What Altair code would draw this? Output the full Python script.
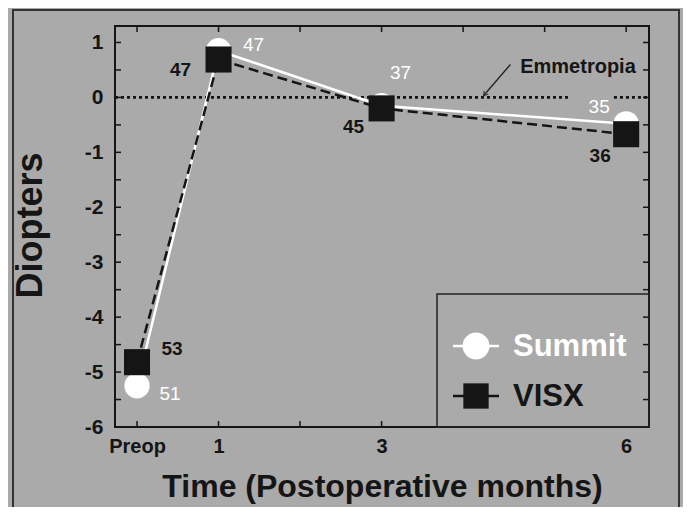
import altair as alt
import pandas as pd

# ---- data ----
months = [0, 1, 3, 6]
month_labels = ["Preop", "1", "3", "6"]
series = ["Summit", "VISX"]
summit = [-5.25, 0.85, -0.15, -0.48]
visx = [-4.82, 0.69, -0.20, -0.67]
summit_n = [51, 47, 37, 35]
visx_n = [53, 47, 45, 36]
y_ticks = [-6, -5, -4, -3, -2, -1, 0, 1]
y_minor = [v / 2 for v in range(-12, 3)]
x_ticks = [0, 1, 2, 3, 4, 5, 6]
emmetropia_value = 0
emmetropia_segments_start = [-0.27, 5.85]
emmetropia_segments_end = [5.32, 6.28]
annotation_text = "Emmetropia"
annotation_pos = [4.70, 0.56]
arrow_from = [4.58, 0.60]
arrow_to = [4.25, 0.03]
y_title = "Diopters"
x_title = "Time (Postoperative months)"

# ---- layout / style ----
W, H = 534, 401
XDOM = [-0.27, 6.28]
YDOM = [-6, 1.3]
FONT = "Liberation Sans"
BG = "#aaaaaa"
DARK = "#151515"
label_offsets = [(33, 8), (35, -6), (19, -33), (-27, -17),
                 (35, -13), (-38, 10), (-28, 19), (-26, 22)]

xs = alt.Scale(domain=XDOM, nice=False, zero=False)
ys = alt.Scale(domain=YDOM, nice=False, zero=False)

df = pd.DataFrame({
    "month": months * 2,
    "value": summit + visx,
    "n": summit_n + visx_n,
    "series": [series[0]] * 4 + [series[1]] * 4,
    "idx": list(range(8)),
})
label_expr = " : ".join(
    [f"datum.value == {m} ? '{l}'" for m, l in zip(months, month_labels)]
) + " : ''"

x_axis = alt.Axis(values=months, labelExpr=label_expr, ticks=False, domain=False,
                  grid=False, labelFontSize=20, labelFontWeight="bold", labelColor=DARK,
                  labelPadding=9, title=x_title, titleFontSize=32, titleFontWeight="bold",
                  titleColor=DARK, titleY=69, titleBaseline="alphabetic", zindex=1)
y_axis = alt.Axis(values=y_ticks, labelExpr="datum.value < 0 ? '-' + abs(datum.value) : '' + datum.value",
                  ticks=False, domain=False, grid=False,
                  labelFontSize=21, labelFontWeight="bold", labelColor=DARK, labelPadding=12,
                  title=y_title, titleFontSize=36, titleFontWeight="bold", titleColor=DARK,
                  titleAngle=270, titleX=-85, titleY=199, titleAlign="center",
                  titleBaseline="middle", zindex=1)


def X(f):
    return alt.X(f, scale=xs, axis=x_axis)


def Y(f):
    return alt.Y(f, scale=ys, axis=y_axis)


base = alt.Chart(df)

# outer figure frame
frame = alt.Chart(alt.Data(values=[{}])).mark_rect(
    fillOpacity=0, stroke="#333333", strokeWidth=2
).encode(x=alt.value(-102), x2=alt.value(564), y=alt.value(-16), y2=alt.value(H + 120))

# plot frame
plot_frame = alt.Chart(alt.Data(values=[{}])).mark_rect(
    fillOpacity=0, stroke=DARK, strokeWidth=2
).encode(x=alt.value(0), x2=alt.value(W), y=alt.value(0), y2=alt.value(H))

# inward ticks
tick_style = dict(color=DARK, strokeWidth=1.5)
ydf = pd.DataFrame({"v": y_minor})
left_ticks = alt.Chart(ydf).mark_rule(**tick_style).encode(
    y=Y("v:Q"), x=alt.value(0), x2=alt.value(6))
right_ticks = alt.Chart(ydf).mark_rule(**tick_style).encode(
    y=Y("v:Q"), x=alt.value(W - 6), x2=alt.value(W))
top_ticks = alt.Chart(pd.DataFrame({"v": x_ticks})).mark_rule(**tick_style).encode(
    x=X("v:Q"), y=alt.value(0), y2=alt.value(6))
bottom_ticks = alt.Chart(pd.DataFrame({"v": x_ticks[:4]})).mark_rule(**tick_style).encode(
    x=X("v:Q"), y=alt.value(H - 6), y2=alt.value(H))

# emmetropia dotted line
emm = alt.Chart(pd.DataFrame({"a": emmetropia_segments_start, "b": emmetropia_segments_end,
                              "y": [emmetropia_value] * 2})).mark_rule(
    color=DARK, strokeWidth=2.6, strokeDash=[3, 3]
).encode(x=X("a:Q"), x2="b:Q", y=Y("y:Q"))

emm_text = alt.Chart(pd.DataFrame({"x": [annotation_pos[0]], "y": [annotation_pos[1]],
                                   "t": [annotation_text]})).mark_text(
    align="left", baseline="middle", fontSize=20, fontWeight="bold", color=DARK, font=FONT
).encode(x=X("x:Q"), y=Y("y:Q"), text="t:N")

arrow_df = pd.DataFrame({"x": [arrow_from[0]], "y": [arrow_from[1]],
                         "x2": [arrow_to[0]], "y2": [arrow_to[1]]})
arrow_line = alt.Chart(arrow_df).mark_rule(color="#222222", strokeWidth=1.3).encode(
    x=X("x:Q"), y=Y("y:Q"), x2="x2:Q", y2="y2:Q")
arrow_head = alt.Chart(arrow_df).mark_point(
    shape="M-0.6,-1L0,0L0.6,-1", filled=False, size=70, angle=40, color="#222222", strokeWidth=1.3
).encode(x=X("x2:Q"), y=Y("y2:Q"))

# series lines
summit_line = base.transform_filter(alt.datum.series == series[0]).mark_line(
    color="white", strokeWidth=2.5
).encode(x=X("month:Q"), y=Y("value:Q"))
visx_line = base.transform_filter(alt.datum.series == series[1]).mark_line(
    color=DARK, strokeWidth=2.5, strokeDash=[10, 5]
).encode(x=X("month:Q"), y=Y("value:Q"))

summit_pts = base.transform_filter(alt.datum.series == series[0]).mark_point(
    shape="circle", filled=True, size=640, color="white", opacity=1
).encode(x=X("month:Q"), y=Y("value:Q"))
visx_pts = base.transform_filter(alt.datum.series == series[1]).mark_point(
    shape="square", filled=True, size=680, color=DARK, opacity=1
).encode(x=X("month:Q"), y=Y("value:Q"))

# value labels
labels = []
for i, (dx, dy) in enumerate(label_offsets):
    is_summit = i < 4
    labels.append(
        base.transform_filter(alt.datum.idx == i).mark_text(
            dx=dx, dy=dy, align="center", baseline="middle", fontSize=19, font=FONT,
            fontWeight="normal" if is_summit else "bold",
            color="white" if is_summit else DARK
        ).encode(x=X("month:Q"), y=Y("value:Q"), text="n:Q")
    )

# legend (drawn)
legend_box = alt.Chart(alt.Data(values=[{}])).mark_rect(
    fillOpacity=0, stroke="#222222", strokeWidth=1.5
).encode(x=alt.value(322), x2=alt.value(W), y=alt.value(268), y2=alt.value(H))
leg = []
for s, yy, col, shp, sz in [(series[0], 320, "white", "circle", 720),
                            (series[1], 370, DARK, "square", 640)]:
    d = alt.Data(values=[{"s": s}])
    leg.append(alt.Chart(d).mark_rule(color=col, strokeWidth=2.5).encode(
        x=alt.value(338), x2=alt.value(384), y=alt.value(yy)))
    leg.append(alt.Chart(d).mark_point(shape=shp, filled=True, size=sz, color=col, opacity=1).encode(
        x=alt.value(361), y=alt.value(yy)))
    leg.append(alt.Chart(d).mark_text(align="left", baseline="middle", fontSize=31,
                                      fontWeight="bold", color=col, font=FONT).encode(
        x=alt.value(398), y=alt.value(yy + 1), text="s:N"))

chart = alt.layer(
    frame, plot_frame, left_ticks, right_ticks, top_ticks, bottom_ticks,
    emm, emm_text, arrow_line, arrow_head, summit_line, visx_line, summit_pts, visx_pts,
    *labels, legend_box, *leg
).properties(
    width=W, height=H,
    autosize=alt.AutoSizeParams(type="none"),
    padding={"left": 107, "top": 18, "right": 34, "bottom": 80},
    background=BG,
).configure_view(
    stroke=None
).configure(font=FONT)

chart.save("out.html", embed_options={"renderer": "svg", "actions": False})
